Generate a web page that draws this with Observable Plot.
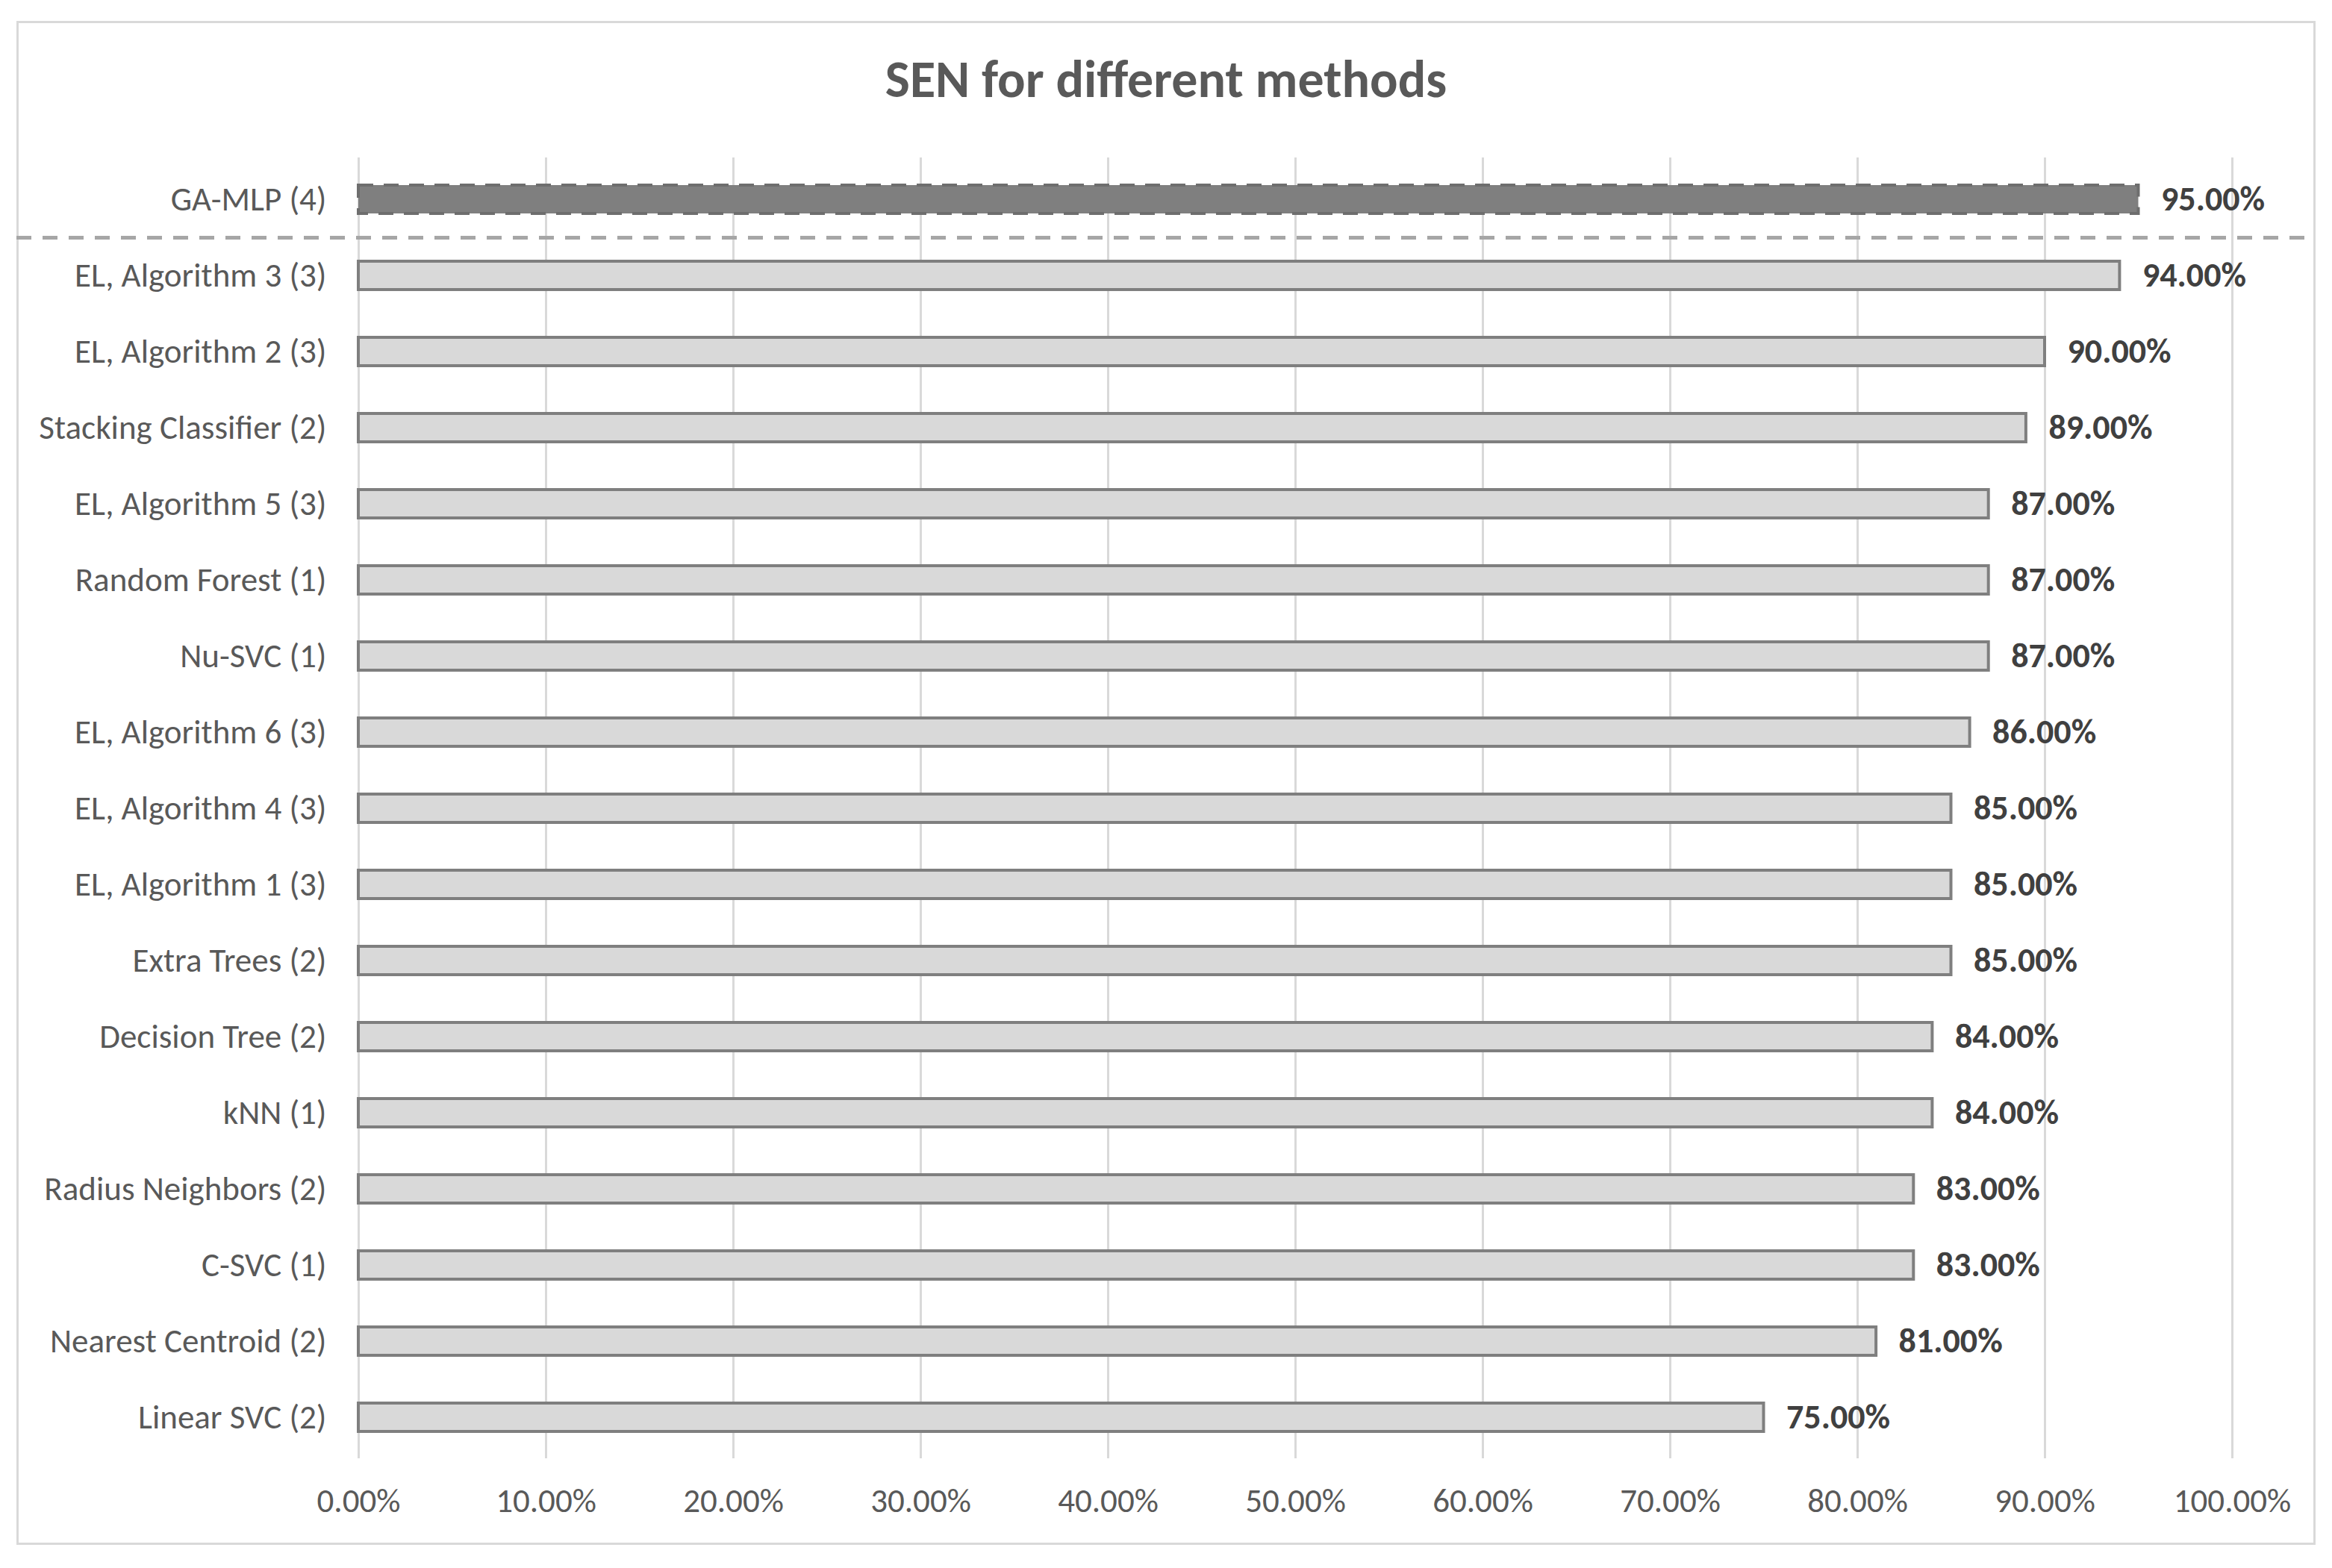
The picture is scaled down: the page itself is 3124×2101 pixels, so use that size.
<!DOCTYPE html>
<html>
<head>
<meta charset="utf-8">
<script src="https://cdn.jsdelivr.net/npm/d3@7"></script>
<script src="https://cdn.jsdelivr.net/npm/@observablehq/plot@0.6"></script>
<style>
  html, body { margin: 0; padding: 0; background: #ffffff; }
  #wrap { position: relative; width: 3124px; height: 2101px; background: #ffffff; overflow: hidden; }
  #frame { position: absolute; left: 22px; top: 28px; width: 3080px; height: 2042px; border: 3px solid #d9d9d9; box-sizing: border-box; }
  #title { position: absolute; left: 0; top: 71px; width: 3124px; text-align: center; font-family: Calibri, Carlito, Lato, sans-serif; font-weight: bold; font-size: 70px; line-height: 1; color: #595959; }
  #chart { position: absolute; left: 0; top: 160px; }
</style>
</head>
<body>
<div id="wrap">
  <div id="frame"></div>
  <div id="title">SEN for different methods</div>
  <div id="chart"></div>
</div>
<script>
// Data (top to bottom as in the chart)
const methods = [
  "GA-MLP (4)",
  "EL, Algorithm 3 (3)",
  "EL, Algorithm 2 (3)",
  "Stacking Classifier (2)",
  "EL, Algorithm 5 (3)",
  "Random Forest (1)",
  "Nu-SVC (1)",
  "EL, Algorithm 6 (3)",
  "EL, Algorithm 4 (3)",
  "EL, Algorithm 1 (3)",
  "Extra Trees (2)",
  "Decision Tree (2)",
  "kNN (1)",
  "Radius Neighbors (2)",
  "C-SVC (1)",
  "Nearest Centroid (2)",
  "Linear SVC (2)"
];
const sen = [0.95, 0.94, 0.90, 0.89, 0.87, 0.87, 0.87, 0.86, 0.85, 0.85, 0.85, 0.84, 0.84, 0.83, 0.83, 0.81, 0.75];
const highlighted = ["GA-MLP (4)"];
const xTicks = [0, 0.1, 0.2, 0.3, 0.4, 0.5, 0.6, 0.7, 0.8, 0.9, 1.0];

const data = methods.map((m, i) => ({method: m, value: sen[i], hi: highlighted.includes(m)}));
const fmt = d3.format(".2%");
const font = "Calibri, Carlito, Lato, sans-serif";

const chart = Plot.plot({
  width: 3124,
  height: 1941,
  marginLeft: 480,
  marginRight: 134,
  marginTop: 51,
  marginBottom: 147,
  style: {fontFamily: font, fontSize: "45px", color: "#595959", background: "transparent"},
  x: {domain: [0, 1], axis: null},
  y: {domain: methods, paddingInner: 0.63, paddingOuter: 0.315, axis: null},
  marks: [
    Plot.gridX(xTicks, {stroke: "#d9d9d9", strokeOpacity: 1, strokeWidth: 3}),
    Plot.axisX({ticks: xTicks, tickFormat: fmt, tickSize: 0, tickPadding: 40, fontSize: 45, color: "#595959", fill: "#595959", label: null}),
    Plot.axisY({tickSize: 0, tickPadding: 43, fontSize: 45, color: "#595959", fill: "#595959", label: null}),
    Plot.barX(data.filter(d => !d.hi), {x: "value", y: "method", fill: "#d9d9d9", stroke: "#7f7f7f", strokeWidth: 4}),
    Plot.barX(data.filter(d => d.hi), {x: "value", y: "method", fill: "#7f7f7f", stroke: "#6e6e6e", strokeWidth: 4, strokeDasharray: "20,14"}),
    Plot.text(data, {x: "value", y: "method", text: d => fmt(d.value), dx: 30, textAnchor: "start", fontWeight: "bold", fontSize: 46, fill: "#404040"}),
    Plot.ruleY(highlighted, {y: d => d, dy: 51, stroke: "#a6a6a6", strokeWidth: 5, strokeDasharray: "20,15", insetLeft: -458, insetRight: -105})
  ]
});
document.getElementById("chart").appendChild(chart);
</script>
</body>
</html>
